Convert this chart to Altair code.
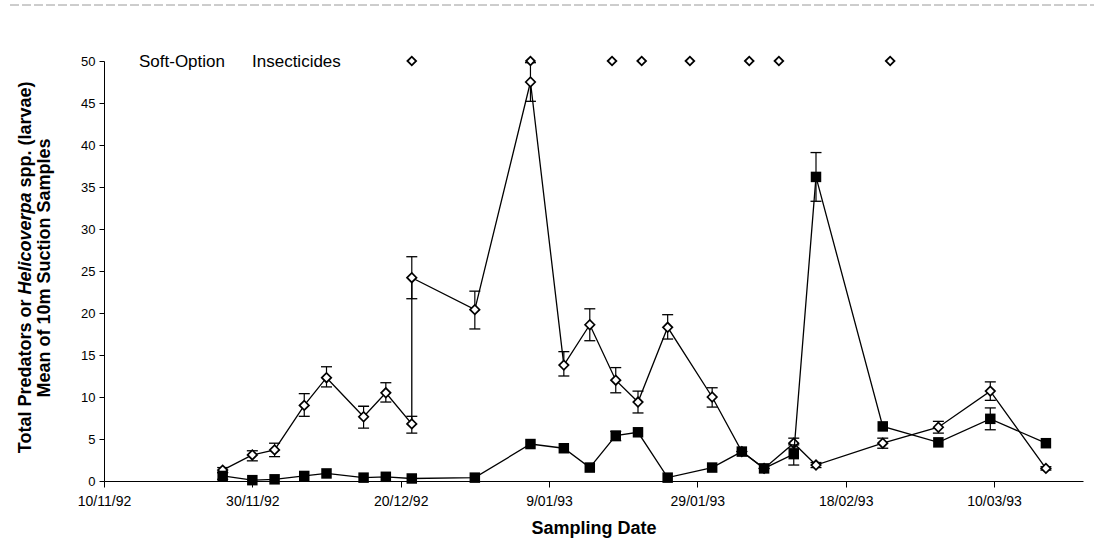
import altair as alt
import pandas as pd

# ---------------- data ----------------
pred_dates = ["1992-11-26", "1992-11-30", "1992-12-03", "1992-12-07", "1992-12-10",
              "1992-12-15", "1992-12-18", "1992-12-21T12:00:00Z", "1992-12-21T12:00:00Z",
              "1992-12-30", "1993-01-06T12:00:00Z", "1993-01-11", "1993-01-14T12:00:00Z",
              "1993-01-18", "1993-01-21", "1993-01-25", "1993-01-31", "1993-02-04",
              "1993-02-07", "1993-02-11", "1993-02-14", "1993-02-23", "1993-03-02T12:00:00Z",
              "1993-03-09T12:00:00Z", "1993-03-17"]
pred_vals = [1.3, 3.1, 3.7, 9.0, 12.3, 7.65, 10.5, 6.8, 24.2, 20.4, 47.5, 13.8, 18.6,
             12.0, 9.4, 18.3, 10.0, 3.5, 1.5, 4.5, 1.9, 4.5, 6.4, 10.7, 1.5]
pred_lo = [1.0, 2.4, 2.9, 7.7, 11.2, 6.3, 9.4, 5.7, 21.7, 18.1, 45.2, 12.5, 16.7,
           10.5, 8.1, 16.9, 8.8, None, None, 3.9, 1.6, 3.9, 5.7, 9.6, 1.3]
pred_hi = [1.6, 3.6, 4.5, 10.4, 13.6, 8.9, 11.7, 7.7, 26.7, 22.6, 49.8, 15.4, 20.5,
           13.5, 10.7, 19.8, 11.1, None, None, 5.1, 2.2, 5.1, 7.1, 11.8, 1.7]

hel_dates = ["1992-11-26", "1992-11-30", "1992-12-03", "1992-12-07", "1992-12-10",
             "1992-12-15", "1992-12-18", "1992-12-21T12:00:00Z", "1992-12-30",
             "1993-01-06T12:00:00Z", "1993-01-11", "1993-01-14T12:00:00Z", "1993-01-18",
             "1993-01-21", "1993-01-25", "1993-01-31", "1993-02-04", "1993-02-07",
             "1993-02-11", "1993-02-14", "1993-02-23", "1993-03-02T12:00:00Z",
             "1993-03-09T12:00:00Z", "1993-03-17"]
hel_vals = [0.6, 0.1, 0.2, 0.6, 0.9, 0.4, 0.5, 0.3, 0.4, 4.4, 3.9, 1.6, 5.4, 5.8,
            0.4, 1.6, 3.5, 1.5, 3.2, 36.2, 6.5, 4.6, 7.4, 4.5]
hel_lo = [0.2, None, None, None, None, None, None, None, None, None, None, None, 4.8,
          None, None, None, None, None, 1.9, 33.3, None, None, 6.1, None]
hel_hi = [1.0, None, None, None, None, None, None, None, None, None, None, None, 5.9,
          None, None, None, None, None, 4.3, 39.1, None, None, 8.7, None]

spray_dates = ["1992-12-21T12:00:00Z", "1993-01-06T12:00:00Z", "1993-01-17T12:00:00Z",
               "1993-01-21T12:00:00Z", "1993-01-28", "1993-02-05", "1993-02-09",
               "1993-02-24"]
spray_level = 50

tick_dates = ["1992-11-10", "1992-11-30", "1992-12-20", "1993-01-09", "1993-01-29",
              "1993-02-18", "1993-03-10"]
y_ticks = [0, 5, 10, 15, 20, 25, 30, 35, 40, 45, 50]
x_start = "1992-11-10"
x_end = "1993-03-22"

# ---------------- tables ----------------
def dt(s):
    y, m, d = s[:10].split("-")
    return alt.DateTime(year=int(y), month=int(m), date=int(d), utc=True)

pred = pd.DataFrame({"date": pred_dates, "value": pred_vals, "order": range(len(pred_dates))})
hel = pd.DataFrame({"date": hel_dates, "value": hel_vals, "order": range(len(hel_dates))})
pred_err = pd.DataFrame([{"date": d, "lo": l, "hi": h}
                         for d, l, h in zip(pred_dates, pred_lo, pred_hi) if l is not None])
hel_err = pd.DataFrame([{"date": d, "lo": l, "hi": h}
                        for d, l, h in zip(hel_dates, hel_lo, hel_hi) if l is not None])
spray = pd.DataFrame({"date": spray_dates, "value": [spray_level] * len(spray_dates)})

FONT = "Liberation Sans"

xscale = alt.Scale(type="utc", domain=[dt(x_start), dt(x_end)])
yscale = alt.Scale(domain=[0, 50], nice=False)

xaxis = alt.Axis(values=[dt(s) for s in tick_dates], format="%-d/%m/%y",
                 title="Sampling Date", titleFontSize=18, titleFontWeight="bold",
                 titleFont=FONT, titleColor="black", titleBaseline="alphabetic", titleY=52,
                 labelFont=FONT, labelFontSize=14, labelColor="black", labelPadding=7,
                 tickSize=6, tickColor="black", domainColor="black", grid=False,
                 labelFlush=False, labelOverlap=False)
yaxis = alt.Axis(values=y_ticks, title=None, labelFont=FONT, labelFontSize=13,
                 labelColor="black", labelPadding=4, tickSize=5, tickColor="black",
                 domainColor="black", grid=False)

X = alt.X("date:T", scale=xscale, axis=xaxis)
Xn = alt.X("date:T", scale=xscale)

def errbars(df):
    base = alt.Chart(df)
    rule = base.mark_rule(color="black", strokeWidth=1.2).encode(
        x=Xn, y=alt.Y("lo:Q", scale=yscale), y2="hi:Q")
    lo = base.mark_tick(orient="horizontal", color="black", size=11, thickness=1.3,
                        opacity=1).encode(x=Xn, y=alt.Y("lo:Q", scale=yscale))
    hi = base.mark_tick(orient="horizontal", color="black", size=11, thickness=1.3,
                        opacity=1).encode(x=Xn, y=alt.Y("hi:Q", scale=yscale))
    return rule + lo + hi

pred_line = alt.Chart(pred).mark_line(color="black", strokeWidth=1.3).encode(
    x=X, y=alt.Y("value:Q", scale=yscale, axis=yaxis), order="order:Q")
pred_pts = alt.Chart(pred).mark_point(shape="diamond", filled=True, fill="white",
                                      stroke="black", strokeWidth=1.7, size=90,
                                      opacity=1).encode(
    x=Xn, y=alt.Y("value:Q", scale=yscale))
hel_line = alt.Chart(hel).mark_line(color="black", strokeWidth=1.3).encode(
    x=Xn, y=alt.Y("value:Q", scale=yscale), order="order:Q")
hel_pts = alt.Chart(hel).mark_square(color="black", size=110, opacity=1).encode(
    x=Xn, y=alt.Y("value:Q", scale=yscale))
spray_pts = alt.Chart(spray).mark_point(shape="diamond", filled=True, fill="white",
                                        stroke="black", strokeWidth=1.8, size=75,
                                        opacity=1).encode(
    x=Xn, y=alt.Y("value:Q", scale=yscale))

# ---------------- text annotations ----------------
def txt(s, x, y, **kw):
    return alt.Chart(pd.DataFrame({"t": [s]})).mark_text(font=FONT, color="black", **kw).encode(
        text="t:N", x=alt.value(x), y=alt.value(y))

ytitle = (
    txt("Total Predators or", -78, 238.5, angle=270, align="right", baseline="middle",
        fontSize=18, fontWeight="bold")
    + txt("Helicoverpa", -78, 233.5, angle=270, align="left", baseline="middle",
          fontSize=18, fontWeight="bold", fontStyle="italic")
    + txt("spp. (larvae)", -78, 126.5, angle=270, align="left", baseline="middle",
          fontSize=18, fontWeight="bold")
    + txt("Mean of 10m Suction Samples", -59, 207, angle=270, align="center",
          baseline="middle", fontSize=18, fontWeight="bold")
)
legend_txt = (
    txt("Soft-Option", 35, 1, align="left", baseline="middle", fontSize=17)
    + txt("Insecticides", 148, 1, align="left", baseline="middle", fontSize=17)
)
scan_line = alt.Chart(pd.DataFrame({"a": [0]})).mark_rule(
    color="#9a9a9a", strokeWidth=1, strokeDash=[9, 3]).encode(
    x=alt.value(-94), x2=alt.value(990), y=alt.value(-56))

chart = alt.layer(
    errbars(pred_err), pred_line, pred_pts,
    errbars(hel_err), hel_line, hel_pts,
    spray_pts, ytitle, legend_txt, scan_line
).properties(
    width=979, height=420,
    autosize=alt.AutoSizeParams(type="none"),
    padding={"left": 104, "top": 61, "right": 24, "bottom": 73},
    background="white",
).configure_view(stroke=None)

chart.save("out.html", embed_options={"renderer": "svg", "actions": False})
